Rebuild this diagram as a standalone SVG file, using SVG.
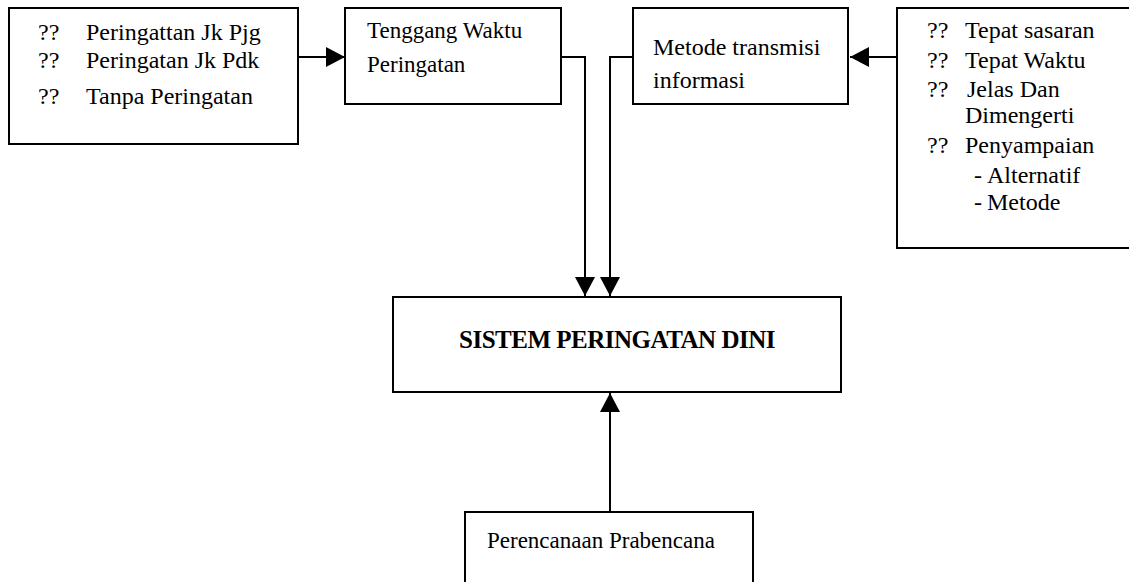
<svg xmlns="http://www.w3.org/2000/svg" width="1129" height="582" viewBox="0 0 1129 582">
<style>
.box{fill:#fff;stroke:#000;stroke-width:2}
.t{font-family:"Liberation Serif","Times New Roman",serif;font-size:24px;fill:#000}
.b{font-family:"Liberation Serif","Times New Roman",serif;font-size:25px;font-weight:bold;letter-spacing:-0.5px;fill:#000}
.c{fill:none;stroke:#000;stroke-width:2}
</style>
<defs>
<marker id="arr" markerUnits="userSpaceOnUse" markerWidth="20" markerHeight="20" refX="19" refY="10" orient="auto">
<path d="M0,0 L19,10 L0,20 z" fill="#000"/>
</marker>
</defs>
<rect width="1129" height="582" fill="#fff"/>
<g id="connectors">
<path class="c" d="M298,57 H345" marker-end="url(#arr)"/>
<path class="c" d="M561,57 H585 V296" marker-end="url(#arr)"/>
<path class="c" d="M633,57 H610 V296" marker-end="url(#arr)"/>
<path class="c" d="M897,57 H850" marker-end="url(#arr)"/>
<path class="c" d="M610,512 V393" marker-end="url(#arr)"/>
</g>
<g id="node-peringatan">
<rect class="box" x="9" y="8" width="289" height="136"/>
<text class="t" x="38" y="40">??</text><text class="t" x="86" y="40">Peringattan Jk Pjg</text>
<text class="t" x="38" y="68">??</text><text class="t" x="86" y="68">Peringatan Jk Pdk</text>
<text class="t" x="38" y="104">??</text><text class="t" x="86" y="104">Tanpa Peringatan</text>
</g>
<g id="node-tenggang">
<rect class="box" x="345" y="8" width="216" height="96"/>
<text class="t" x="367" y="38" style="font-size:23px">Tenggang Waktu</text>
<text class="t" x="367" y="72" style="font-size:23px">Peringatan</text>
</g>
<g id="node-metode">
<rect class="box" x="633" y="8" width="215" height="96"/>
<text class="t" x="653" y="55">Metode transmisi</text>
<text class="t" x="653" y="88">informasi</text>
</g>
<g id="node-kriteria">
<rect class="box" x="897" y="8" width="240" height="240"/>
<text class="t" x="927" y="38">??</text><text class="t" x="965" y="38">Tepat sasaran</text>
<text class="t" x="927" y="68">??</text><text class="t" x="965" y="68">Tepat Waktu</text>
<text class="t" x="927" y="97">??</text><text class="t" x="967" y="97">Jelas Dan</text>
<text class="t" x="965" y="123">Dimengerti</text>
<text class="t" x="927" y="153">??</text><text class="t" x="965" y="153">Penyampaian</text>
<text class="t" x="974" y="183">-</text><text class="t" x="987" y="183">Alternatif</text>
<text class="t" x="974" y="210">-</text><text class="t" x="987" y="210">Metode</text>
</g>
<g id="node-sistem">
<rect class="box" x="393" y="297" width="448" height="95"/>
<text class="b" x="617" y="348" text-anchor="middle">SISTEM PERINGATAN DINI</text>
</g>
<g id="node-perencanaan">
<rect class="box" x="465" y="512" width="288" height="90"/>
<text class="t" x="487" y="548" style="font-size:23px">Perencanaan Prabencana</text>
</g>
</svg>
